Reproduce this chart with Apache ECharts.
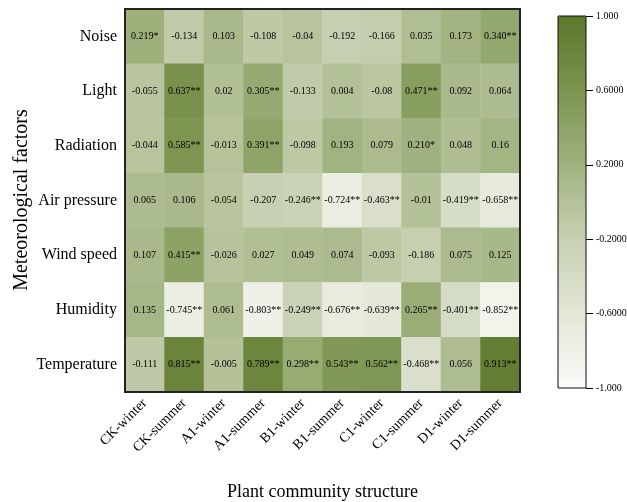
<!DOCTYPE html>
<html>
<head>
<meta charset="utf-8">
<script src="https://cdn.jsdelivr.net/npm/echarts@6/dist/echarts.min.js"></script>
<style>
  html, body { margin: 0; padding: 0; background: #fff; }
  #chart { width: 627px; height: 502px; }
</style>
</head>
<body>
<div id="chart"></div>
<script>
// Plant community structures (columns) and meteorological factors (rows)
const groups = ['CK-winter', 'CK-summer', 'A1-winter', 'A1-summer', 'B1-winter',
                'B1-summer', 'C1-winter', 'C1-summer', 'D1-winter', 'D1-summer'];
const factors = ['Noise', 'Light', 'Radiation', 'Air pressure', 'Wind speed', 'Humidity', 'Temperature'];

// Correlation coefficients, one array per factor
const noise       = [0.219, -0.134, 0.103, -0.108, -0.04, -0.192, -0.166, 0.035, 0.173, 0.340];
const light       = [-0.055, 0.637, 0.02, 0.305, -0.133, 0.004, -0.08, 0.471, 0.092, 0.064];
const radiation   = [-0.044, 0.585, -0.013, 0.391, -0.098, 0.193, 0.079, 0.210, 0.048, 0.16];
const airPressure = [0.065, 0.106, -0.054, -0.207, -0.246, -0.724, -0.463, -0.01, -0.419, -0.658];
const windSpeed   = [0.107, 0.415, -0.026, 0.027, 0.049, 0.074, -0.093, -0.186, 0.075, 0.125];
const humidity    = [0.135, -0.745, 0.061, -0.803, -0.249, -0.676, -0.639, 0.265, -0.401, -0.852];
const temperature = [-0.111, 0.815, -0.005, 0.789, 0.298, 0.543, 0.562, -0.468, 0.056, 0.913];

// Significance markers (* p<0.05, ** p<0.01)
const noiseSig       = ['*', '', '', '', '', '', '', '', '', '**'];
const lightSig       = ['', '**', '', '**', '', '', '', '**', '', ''];
const radiationSig   = ['', '**', '', '**', '', '', '', '*', '', ''];
const airPressureSig = ['', '', '', '', '**', '**', '**', '', '**', '**'];
const windSpeedSig   = ['', '**', '', '', '', '', '', '', '', ''];
const humiditySig    = ['', '**', '', '**', '**', '**', '**', '**', '**', '**'];
const temperatureSig = ['', '**', '', '**', '**', '**', '**', '**', '', '**'];

// Colour bar tick values
const barTicks = [-1, -0.6, -0.2, 0.2, 0.6, 1];

const rows = [noise, light, radiation, airPressure, windSpeed, humidity, temperature];
const sigs = [noiseSig, lightSig, radiationSig, airPressureSig, windSpeedSig, humiditySig, temperatureSig];

const cells = [];
rows.forEach((vals, r) => {
  vals.forEach((v, c) => {
    const s = sigs[r][c];
    const txt = s ? v.toFixed(3) + s : String(v);
    cells.push({ value: [c, r, v], label: txt });
  });
});

const serif = '"Liberation Serif", "Times New Roman", serif';
const chart = echarts.init(document.getElementById('chart'), null, { renderer: 'canvas' });

chart.setOption({
  animation: false,
  backgroundColor: '#fff',
  grid: [
    { left: 125, top: 9, width: 395, height: 383, show: true, z: 3, outerBoundsMode: 'none',
      containLabel: false,
      backgroundColor: 'transparent', borderColor: '#222', borderWidth: 2 },
    { left: 558, top: 16, width: 28, height: 372, show: true, z: 10, outerBoundsMode: 'none',
      containLabel: false,
      backgroundColor: 'transparent', borderColor: '#111', borderWidth: 1 }
  ],
  // Vertical title of the factor axis
  graphic: [{
    type: 'text', x: 22, y: 200, rotation: Math.PI / 2,
    style: {
      text: 'Meteorological factors', fontFamily: serif, fontSize: 20, fill: '#000',
      align: 'center', verticalAlign: 'middle'
    }
  }],
  xAxis: [
    {
      type: 'category', gridIndex: 0, data: groups,
      axisLine: { show: false }, axisTick: { show: false }, splitLine: { show: false },
      axisLabel: { rotate: 45, margin: 9, fontFamily: serif, fontSize: 14, color: '#000', interval: 0 },
      name: 'Plant community structure', nameLocation: 'middle', nameGap: 91,
      nameTextStyle: { fontFamily: serif, fontSize: 18, color: '#000' }
    },
    { type: 'value', gridIndex: 1, show: false, min: 0, max: 1 }
  ],
  yAxis: [
    {
      type: 'category', gridIndex: 0, data: factors, inverse: true,
      axisLine: { show: false }, axisTick: { show: false }, splitLine: { show: false },
      axisLabel: { margin: 8, fontFamily: serif, fontSize: 16, color: '#000' }
    },
    {
      type: 'value', gridIndex: 1, position: 'right', min: -1, max: 1, interval: 0.4,
      axisLine: { show: false, onZero: false }, splitLine: { show: false },
      axisTick: { show: true, length: 7, lineStyle: { color: '#000', width: 1 } },
      axisLabel: {
        margin: 10, fontFamily: serif, fontSize: 10, color: '#000',
        formatter: v => {
          const t = barTicks.find(b => Math.abs(b - v) < 1e-6);
          if (t === undefined) return '';
          return Math.abs(t) === 1 ? t.toFixed(3) : t.toFixed(4);
        }
      }
    }
  ],
  visualMap: {
    type: 'continuous', seriesIndex: 0, min: -1, max: 1, dimension: 2,
    calculable: false, text: ['', ''], showLabel: false,
    left: 558, top: 16, itemWidth: 28, itemHeight: 372, padding: 0,
    inRange: { color: ['#fbfbf9', '#e3e7d7', '#c7d0b2', '#a0b27f', '#7c944f', '#5c772a'] }
  },
  series: [{
    type: 'heatmap', xAxisIndex: 0, yAxisIndex: 0,
    data: cells,
    label: {
      show: true, fontFamily: serif, fontSize: 10, color: '#000',
      formatter: p => p.data.label
    },
    itemStyle: { borderWidth: 0 },
    emphasis: { disabled: true }
  }]
});
</script>
</body>
</html>
